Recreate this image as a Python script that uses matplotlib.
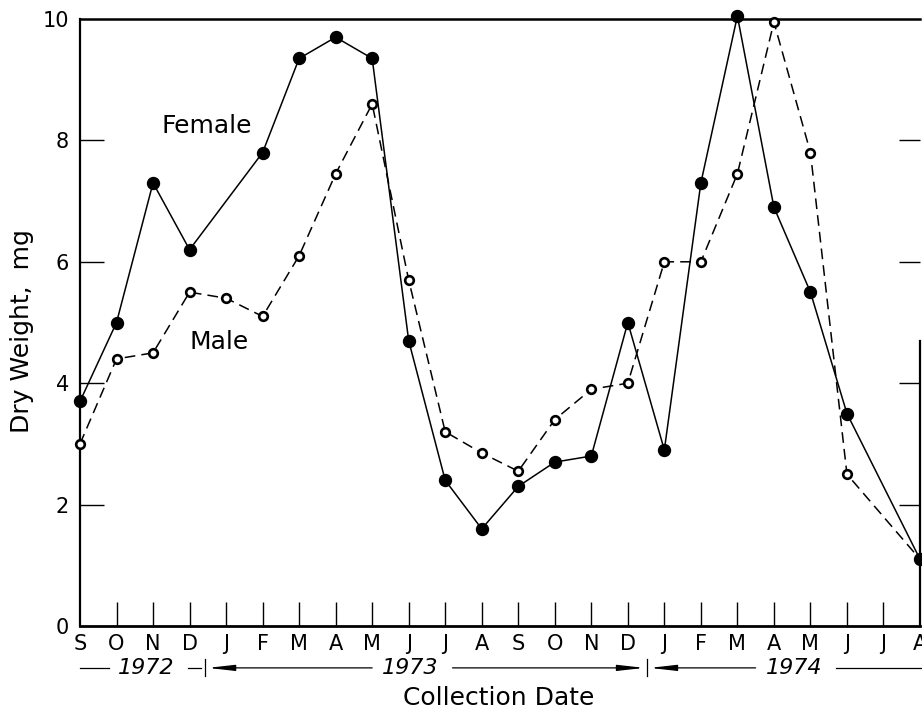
import numpy as np
import matplotlib
matplotlib.use("Agg")
import matplotlib.pyplot as plt

# Monthly collections, September 1972 through August 1974
months = ["S", "O", "N", "D", "J", "F", "M", "A", "M", "J", "J", "A",
          "S", "O", "N", "D", "J", "F", "M", "A", "M", "J", "J", "A"]

# Mean dry weight (mg); NaN = no sample that month
female = [3.7, 5.0, 7.3, 6.2, np.nan, 7.8, 9.35, 9.7, 9.35, 4.7, 2.4, 1.6,
          2.3, 2.7, 2.8, 5.0, 2.9, 7.3, 10.05, 6.9, 5.5, 3.5, np.nan, 1.1]
male = [3.0, 4.4, 4.5, 5.5, 5.4, 5.1, 6.1, 7.45, 8.6, 5.7, 3.2, 2.85,
        2.55, 3.4, 3.9, 4.0, 6.0, 6.0, 7.45, 9.95, 7.8, 2.5, np.nan, 1.1]

y_ticks = [0, 2, 4, 6, 8, 10]
years = ["1972", "1973", "1974"]

plt.rcParams["font.family"] = ["DejaVu Sans"]

W, H = 922, 717
fig = plt.figure(figsize=(W / 100, H / 100), dpi=100)
ax = fig.add_axes([80 / W, (H - 626) / H, 840 / W, 607 / H])

x = np.arange(len(months))
f = np.array(female)
m = np.array(male)
fm = ~np.isnan(f)
mm = ~np.isnan(m)

ax.plot(x[mm], m[mm], color="black", lw=1.1, ls=(0, (7, 4)),
        marker="o", markersize=6.2, markerfacecolor="white",
        markeredgecolor="black", markeredgewidth=1.9, clip_on=False, zorder=3)
ax.plot(x[fm], f[fm], color="black", lw=1.1, ls="-",
        marker="o", markersize=8.6, markerfacecolor="black",
        markeredgecolor="black", clip_on=False, zorder=4)

ax.set_xlim(0, len(months) - 1)
ax.set_ylim(0, 10)

ax.set_xticks(x)
ax.set_xticklabels(months)
ax.set_yticks(y_ticks)
ax.set_yticklabels([str(v) for v in y_ticks])

ax.tick_params(axis="x", direction="in", length=17, width=1.0, pad=6,
               labelsize=15)
ax.tick_params(axis="y", direction="in", length=17, width=1.0, pad=8,
               labelsize=15, right=True)
# hide the ticks that would sit on the corners
for t in ax.xaxis.get_major_ticks():
    t.tick2line.set_visible(False)
ax.xaxis.get_major_ticks()[0].tick1line.set_visible(False)
ax.xaxis.get_major_ticks()[-1].tick1line.set_visible(False)
yt = ax.yaxis.get_major_ticks()
yt[0].tick1line.set_visible(False)
yt[0].tick2line.set_visible(False)
yt[-1].tick1line.set_visible(False)
yt[-1].tick2line.set_visible(False)
for t in yt:
    t.tick2line.set_markersize(15)

ax.spines["left"].set_linewidth(1.6)
ax.spines["bottom"].set_linewidth(2.0)
ax.spines["top"].set_linewidth(1.8)
ax.spines["right"].set_linewidth(1.6)
ax.spines["right"].set_bounds(0, 4.7)

# Series labels
ax.text(3.48, 8.24, "Female", fontsize=18, ha="center", va="center")
ax.text(3.81, 4.68, "Male", fontsize=18, ha="center", va="center")

# Year row under the month labels
tr = ax.get_xaxis_transform()
yy = -0.069
kw = dict(transform=tr, clip_on=False, color="black", lw=0.9)
ax.plot([0, 0.8], [yy, yy], **kw)
ax.text(1.8, yy, years[0], transform=tr, fontsize=16, style="italic",
        ha="center", va="center")
ax.plot([2.95, 3.3], [yy, yy], **kw)
ax.plot([3.42, 3.42], [yy - 0.014, yy + 0.014], **kw)
ax.plot([15.53, 15.53], [yy - 0.014, yy + 0.014], **kw)

arrow = dict(arrowstyle="-|>,head_length=1.6,head_width=0.18", lw=0.9,
             color="black", shrinkA=0, shrinkB=0)
ax.annotate("", xy=(3.5, yy), xytext=(8.0, yy), xycoords=tr,
            textcoords=tr, arrowprops=arrow, annotation_clip=False)
ax.text(9.05, yy, years[1], transform=tr, fontsize=16, style="italic",
        ha="center", va="center")
ax.annotate("", xy=(15.45, yy), xytext=(10.2, yy), xycoords=tr,
            textcoords=tr, arrowprops=arrow, annotation_clip=False)
ax.annotate("", xy=(15.6, yy), xytext=(18.5, yy), xycoords=tr,
            textcoords=tr, arrowprops=arrow, annotation_clip=False)
ax.text(19.55, yy, years[2], transform=tr, fontsize=16, style="italic",
        ha="center", va="center")
ax.plot([20.7, 23.2], [yy, yy], **kw)

fig.text(499 / W, 1 - 698 / H, "Collection Date", fontsize=18,
         ha="center", va="center")
fig.text(22 / W, 1 - 331 / H, "Dry Weight,  mg", fontsize=18,
         ha="center", va="center", rotation=90)

fig.savefig("out.png", dpi=100)
